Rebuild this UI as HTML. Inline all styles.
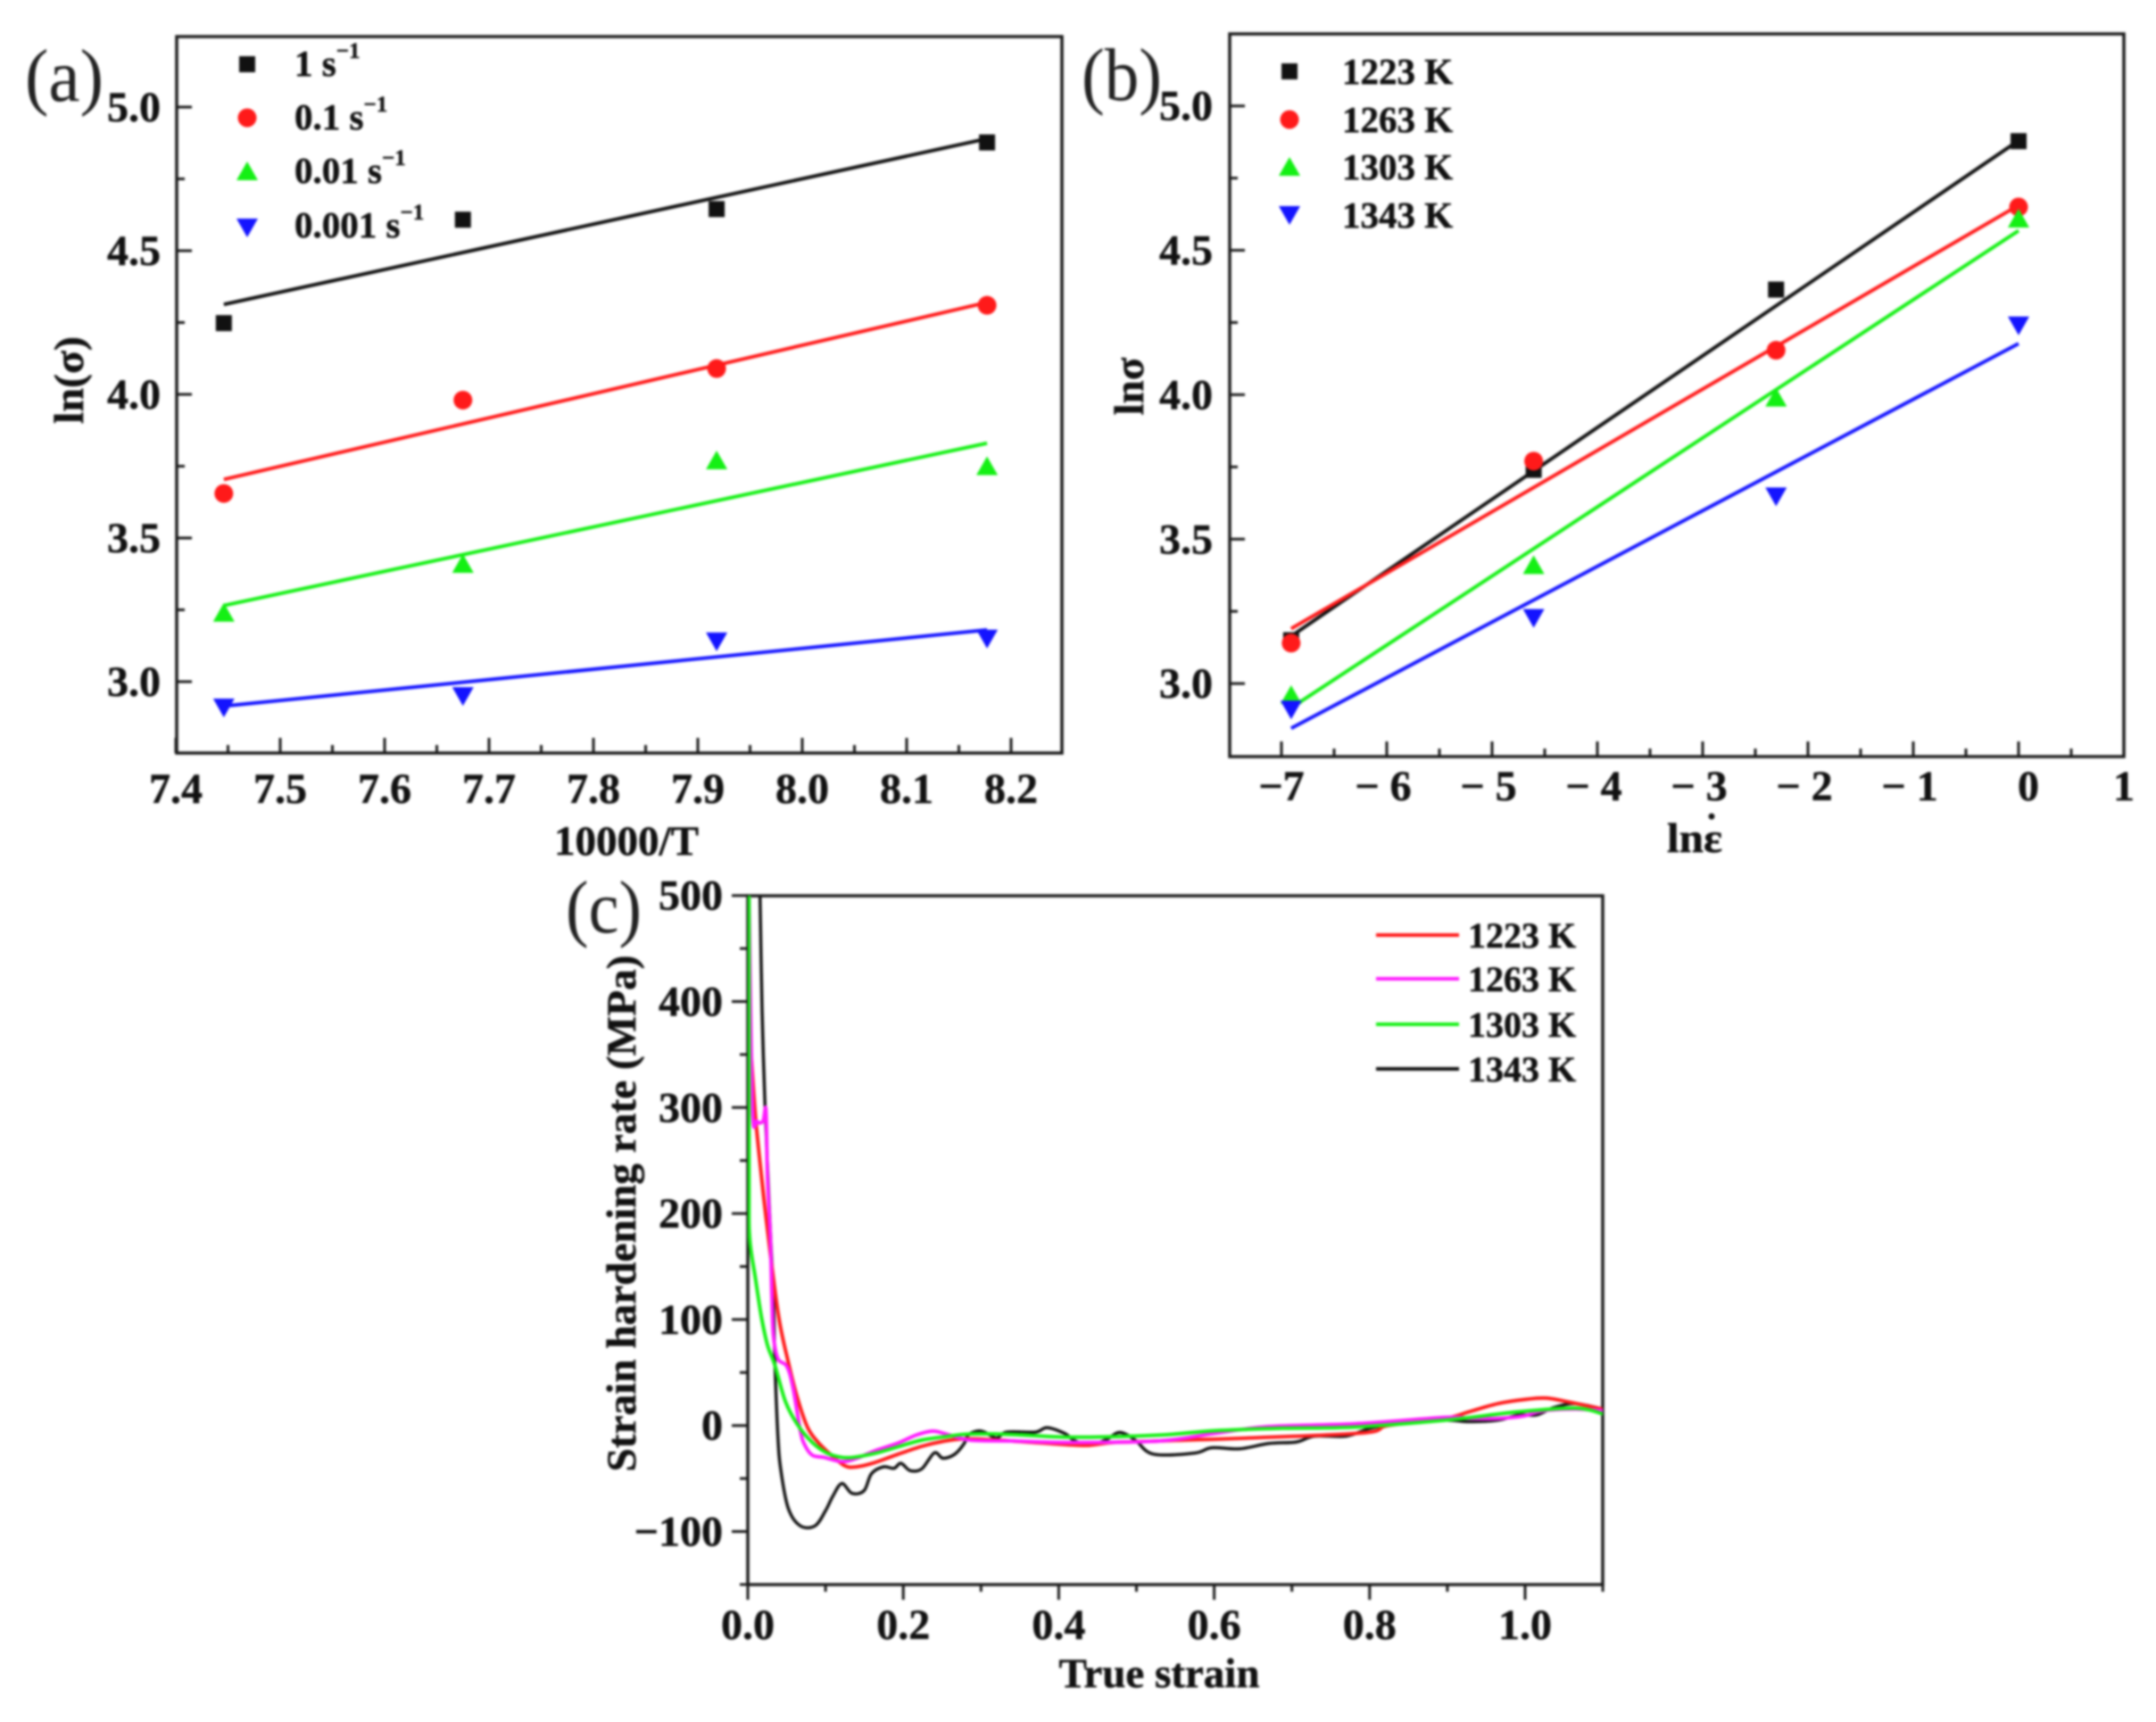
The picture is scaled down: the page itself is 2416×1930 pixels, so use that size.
<!DOCTYPE html>
<html lang="en">
<head>
<meta charset="utf-8">
<title>Flow stress and strain hardening charts</title>
<style>
html,body{margin:0;padding:0;background:#fff;width:2416px;height:1930px;overflow:hidden}
svg{display:block;filter:blur(1.3px)}
text{font-family:"Liberation Serif","DejaVu Serif",serif;font-weight:bold;fill:#111;stroke:#111;stroke-width:.5px}
.panel-letter{font-weight:normal;fill:#222;stroke:none}
.tick{font-size:48px}
.title{font-size:47px}
.leg{font-size:41px}
.leg-c{font-size:40px}
.sup{font-size:25px}
</style>
</head>
<body>
<svg id="figure" xmlns="http://www.w3.org/2000/svg" width="2416" height="1930" viewBox="0 0 2416 1930">
  <defs>
    <clipPath id="clip-c"><rect x="838" y="1004" width="958" height="772"/></clipPath>
  </defs>
  <rect x="0" y="0" width="2416" height="1930" fill="#fff"/>

  <g id="panel-a">
    <text class="panel-letter" x="28" y="113" font-size="84" textLength="88" lengthAdjust="spacingAndGlyphs">(a)</text>
    <text class="title" x="702" y="958" text-anchor="middle">10000/T</text>
    <text class="title" transform="translate(93 426) rotate(-90)" text-anchor="middle" textLength="98" lengthAdjust="spacingAndGlyphs">ln(σ)</text>
    <text class="leg" x="330" y="85">1 s<tspan class="sup" dy="-20">−1</tspan></text>
    <text class="leg" x="330" y="145">0.1 s<tspan class="sup" dy="-20">−1</tspan></text>
    <text class="leg" x="330" y="205">0.01 s<tspan class="sup" dy="-20">−1</tspan></text>
    <text class="leg" x="330" y="266">0.001 s<tspan class="sup" dy="-20">−1</tspan></text>
  </g>

  <g id="panel-b">
    <text class="panel-letter" x="1212" y="112" font-size="84" textLength="90" lengthAdjust="spacingAndGlyphs">(b)</text>
    <text class="title" x="1899" y="955" text-anchor="middle" textLength="62" lengthAdjust="spacingAndGlyphs">lnε</text>
    <circle cx="1918" cy="915" r="3.5" fill="#111"/>
    <text class="title" transform="translate(1281 433) rotate(-90)" text-anchor="middle">lnσ</text>
    <text class="leg" x="1504" y="94">1223 K</text>
    <text class="leg" x="1504" y="148">1263 K</text>
    <text class="leg" x="1504" y="201">1303 K</text>
    <text class="leg" x="1504" y="255">1343 K</text>
  </g>

  <g id="panel-c">
    <text class="panel-letter" x="634" y="1045" font-size="84" textLength="85" lengthAdjust="spacingAndGlyphs">(c)</text>
    <text class="title" x="1299" y="1891" text-anchor="middle">True strain</text>
    <text class="title" transform="translate(712 1360) rotate(-90)" text-anchor="middle" textLength="579" lengthAdjust="spacingAndGlyphs">Strain hardening rate (MPa)</text>
    <text class="leg-c" x="1645" y="1062">1223 K</text>
    <text class="leg-c" x="1645" y="1111">1263 K</text>
    <text class="leg-c" x="1645" y="1162">1303 K</text>
    <text class="leg-c" x="1645" y="1212">1343 K</text>
  </g>
</svg>

<script>
// ---------- Panel (a) data ----------
const aTemps = [7.446, 7.675, 7.918, 8.177];
const aSeriesNames = ['1-per-s', '0-1-per-s', '0-01-per-s', '0-001-per-s'];
const aRate1 = [4.248, 4.608, 4.645, 4.877];
const aRate01 = [3.655, 3.98, 4.09, 4.31];
const aRate001 = [3.24, 3.41, 3.77, 3.75];
const aRate0001 = [2.91, 2.95, 3.14, 3.15];
const aFitStart = [4.313, 3.704, 3.265, 2.915];
const aFitEnd = [4.89, 4.32, 3.83, 3.18];
const aXTicks = [7.4, 7.5, 7.6, 7.7, 7.8, 7.9, 8.0, 8.1, 8.2];
const aXMinor = [7.45, 7.55, 7.65, 7.75, 7.85, 7.95, 8.05, 8.15];
const aYTicks = [3.0, 3.5, 4.0, 4.5, 5.0];
const aYMinor = [3.25, 3.75, 4.25, 4.75];

// ---------- Panel (b) data ----------
const bRates = [-6.908, -4.605, -2.303, 0];
const bSeriesNames = ['1223k', '1263k', '1303k', '1343k'];
const b1223 = [3.15, 3.74, 4.364, 4.878];
const b1263 = [3.14, 3.77, 4.154, 4.65];
const b1303 = [2.96, 3.41, 3.99, 4.61];
const b1343 = [2.91, 3.227, 3.648, 4.24];
const bFitStart = [3.164, 3.19, 2.916, 2.845];
const bFitEnd = [4.88, 4.656, 4.568, 4.177];
const bXTicks = [-7, -6, -5, -4, -3, -2, -1, 0, 1];
const bXLabels = ['−7', '− 6', '− 5', '− 4', '− 3', '− 2', '− 1', '0', '1'];
const bXMinor = [-6.5, -5.5, -4.5, -3.5, -2.5, -1.5, -0.5, 0.5];
const bYTicks = [3.0, 3.5, 4.0, 4.5, 5.0];
const bYMinor = [3.25, 3.75, 4.25, 4.75];

// ---------- Panel (c) data ----------
const cXTicks = [0, 0.2, 0.4, 0.6, 0.8, 1.0];
const cXMinor = [0.1, 0.3, 0.5, 0.7, 0.9, 1.1];
const cYTicks = [-100, 0, 100, 200, 300, 400, 500];
const cYMinor = [-150, -50, 50, 150, 250, 350, 450];
const cSeriesNames = ['1343k', '1223k', '1263k', '1303k'];

const strain1343 = [0.0157,0.0184,0.0222,0.029,0.0329,0.0348,0.0387,0.0425,0.052,0.0674,0.0865,0.0999,0.1095,0.121,0.134,0.1496,0.159,0.1745,0.188,0.197,0.209,0.224,0.24,0.251,0.266,0.278,0.2836,0.295,0.3046,0.32,0.333,0.37,0.385,0.408,0.419,0.4386,0.4615,0.475,0.486,0.4998,0.522,0.5745,0.597,0.633,0.67,0.706,0.729,0.77,0.801,0.8423,0.897,0.928,0.965,0.992,1.015,1.037,1.065,1.1];
const rate1343 = [499,391,301,183,122,60,-10,-42,-78,-94.6,-94.6,-80.5,-66.5,-54.7,-64,-61.4,-45.5,-39,-40.4,-35.6,-42.6,-40.7,-25.8,-30.9,-27.2,-17.4,-9,-5.3,-6.2,-11.8,-6.2,-6.2,-2,-7.6,-13.7,-18.8,-13.2,-7,-8,-14.6,-27,-26,-21,-22,-17,-15.5,-10,-10,-2.6,2.6,5,3.6,5,10,10,17,20.6,15.5];

const strain1223 = [0.0042,0.01,0.0176,0.0233,0.031,0.0405,0.052,0.0638,0.077,0.0906,0.106,0.1248,0.14,0.163,0.1936,0.224,0.251,0.278,0.32,0.377,0.4347,0.469,0.53,0.779,0.824,0.897,0.928,0.965,1.001,1.028,1.06,1.1];
const rate1223 = [351,290,235,197,150,99,60,26,-2,-16,-27,-38,-39,-35,-27,-19.6,-15,-12.6,-13.7,-16.5,-18.8,-16,-14.6,-7.7,0,6.7,13,20.6,24.7,25.8,21.6,15.5];

const strain1263 = [0.0015,0.006,0.0118,0.0195,0.0233,0.0253,0.029,0.031,0.0329,0.0387,0.0502,0.0578,0.0675,0.073,0.083,0.0976,0.121,0.14,0.163,0.1936,0.2166,0.2377,0.255,0.2855,0.339,0.4156,0.53,0.5985,0.67,0.779,0.897,0.928,0.965,0.997,1.024,1.065,1.1];
const rate1263 = [500,301,287,287,298,235,178,122,85,63,56,37,-4.6,-18,-28,-30,-34,-31,-24,-16.5,-9,-5.3,-8,-13.7,-14.6,-16,-14.6,-7.7,-1,1.5,7.7,6.7,6.7,8.8,14,15.5,14];

const strain1303 = [0.0015,0.0015,0.0023,0.01,0.0176,0.0253,0.0348,0.0482,0.0638,0.083,0.102,0.1206,0.136,0.163,0.1936,0.224,0.255,0.2855,0.339,0.4156,0.53,0.5985,0.688,0.779,0.897,0.992,1.065,1.1];
const rate1303 = [500,234,178,138,102,76,57,23,1,-16,-26,-30,-30,-26.4,-20,-13.7,-10.4,-8,-8.4,-11,-9,-5,-2.6,-1.5,5,13,16.5,11];

// ---------- Axis functions ----------
const ax = v => 197 + (v - 7.4) * 1170;
const ay = v => 120 + (5 - v) * 322;
const bx = v => 2262 + v * 118;
const by = v => 118.7 + (5 - v) * 323.7;
const cx = v => 838 + v * 871;
const cy = v => 1597.7 - v * 1.188;

const NS = 'http://www.w3.org/2000/svg';
const INK = '#1a1a1a';
const BLACK = '#111111';
const RED = '#ff1a1a';
const GREEN = '#14f014';
const BLUE = '#1414ff';
const MAGENTA = '#ff1aff';

function drawLine(parent, name, x1, y1, x2, y2, color, width, cap) {
  const el = document.createElementNS(NS, 'line');
  
  
  el.setAttribute('x1', x1);
  el.setAttribute('y1', y1);
  el.setAttribute('x2', x2);
  el.setAttribute('y2', y2);
  el.setAttribute('stroke', color);
  el.setAttribute('stroke-width', width);
  el.setAttribute('stroke-linecap', cap || 'butt');
  parent.appendChild(el);
}

function drawText(parent, name, x, y, anchor, label) {
  const el = document.createElementNS(NS, 'text');
  
  
  el.setAttribute('class', 'tick');
  el.setAttribute('x', x);
  el.setAttribute('y', y);
  el.setAttribute('text-anchor', anchor);
  el.textContent = label;
  parent.appendChild(el);
}

function drawFrame(parent, name, x, y, w, h) {
  const el = document.createElementNS(NS, 'rect');
  
  
  el.setAttribute('x', x);
  el.setAttribute('y', y);
  el.setAttribute('width', w);
  el.setAttribute('height', h);
  el.setAttribute('fill', 'none');
  el.setAttribute('stroke', INK);
  el.setAttribute('stroke-width', 3.5);
  parent.appendChild(el);
}

function drawMarker(parent, name, kind, x, y, color) {
  let el;
  if (kind === 0) {
    el = document.createElementNS(NS, 'rect');
    el.setAttribute('x', x - 9);
    el.setAttribute('y', y - 9);
    el.setAttribute('width', 18);
    el.setAttribute('height', 18);
  } else if (kind === 1) {
    el = document.createElementNS(NS, 'circle');
    el.setAttribute('cx', x);
    el.setAttribute('cy', y);
    el.setAttribute('r', 10.5);
  } else if (kind === 2) {
    el = document.createElementNS(NS, 'polygon');
    el.setAttribute('points', (x - 12) + ',' + (y + 10) + ' ' + (x + 12) + ',' + (y + 10) + ' ' + x + ',' + (y - 11));
  } else {
    el = document.createElementNS(NS, 'polygon');
    el.setAttribute('points', (x - 12) + ',' + (y - 10) + ' ' + (x + 12) + ',' + (y - 10) + ' ' + x + ',' + (y + 11));
  }
  
  
  el.setAttribute('fill', color);
  parent.appendChild(el);
}

function smoothPath(xs, ys) {
  const n = xs.length;
  let d = 'M' + xs[0].toFixed(1) + ' ' + ys[0].toFixed(1);
  for (let i = 0; i < n - 1; i++) {
    const a = Math.max(i - 1, 0), c = i + 1, e = Math.min(i + 2, n - 1);
    const c1x = xs[i] + (xs[c] - xs[a]) / 6, c1y = ys[i] + (ys[c] - ys[a]) / 6;
    const c2x = xs[c] - (xs[e] - xs[i]) / 6, c2y = ys[c] - (ys[e] - ys[i]) / 6;
    d += 'C' + c1x.toFixed(1) + ' ' + c1y.toFixed(1) + ' ' + c2x.toFixed(1) + ' ' + c2y.toFixed(1) + ' ' + xs[c].toFixed(1) + ' ' + ys[c].toFixed(1);
  }
  return d;
}

// ---------- Panel (a) ----------
const pa = document.getElementById('panel-a');
const aColors = [BLACK, RED, GREEN, BLUE];
const aSeries = [aRate1, aRate01, aRate001, aRate0001];
const aLegendY = [72, 132, 192, 255];

drawFrame(pa, 'plot-frame-a', 198, 41, 992, 803);
aXTicks.forEach(v => {
  drawLine(pa, 'x-tick-a', ax(v), 844, ax(v), 827, INK, 3);
  drawText(pa, 'x-tick-label-a', ax(v), 900, 'middle', v.toFixed(1));
});
aXMinor.forEach(v => {
  drawLine(pa, 'x-minor-tick-a', ax(v), 844, ax(v), 835, INK, 3);
});
aYTicks.forEach(v => {
  drawLine(pa, 'y-tick-a', 198, ay(v), 215, ay(v), INK, 3);
  drawText(pa, 'y-tick-label-a', 180, ay(v) + 16, 'end', v.toFixed(1));
});
aYMinor.forEach(v => {
  drawLine(pa, 'y-minor-tick-a', 198, ay(v), 207, ay(v), INK, 3);
});
aSeries.forEach((vals, s) => {
  drawLine(pa, 'fit-line-' + aSeriesNames[s], ax(aTemps[0]), ay(aFitStart[s]), ax(aTemps[3]), ay(aFitEnd[s]), aColors[s], 4);
  vals.forEach((v, i) => {
    drawMarker(pa, 'point-' + aSeriesNames[s], s, ax(aTemps[i]), ay(v), aColors[s]);
  });
  drawMarker(pa, 'legend-marker-' + aSeriesNames[s], s, 277, aLegendY[s], aColors[s]);
});

// ---------- Panel (b) ----------
const pb = document.getElementById('panel-b');
const bSeries = [b1223, b1263, b1303, b1343];
const bLegendY = [80, 134, 187, 241];

drawFrame(pb, 'plot-frame-b', 1378, 38, 1002, 810);
bXTicks.forEach((v, i) => {
  drawLine(pb, 'x-tick-b', bx(v), 848, bx(v), 831, INK, 3);
  drawText(pb, 'x-tick-label-b', bx(v) + (v === 0 ? 11 : (v < 0 && v > -7 ? -4 : 0)), 897, 'middle', bXLabels[i]);
});
bXMinor.forEach(v => {
  drawLine(pb, 'x-minor-tick-b', bx(v), 848, bx(v), 839, INK, 3);
});
bYTicks.forEach(v => {
  drawLine(pb, 'y-tick-b', 1378, by(v), 1395, by(v), INK, 3);
  drawText(pb, 'y-tick-label-b', 1359, by(v) + 16, 'end', v.toFixed(1));
});
bYMinor.forEach(v => {
  drawLine(pb, 'y-minor-tick-b', 1378, by(v), 1387, by(v), INK, 3);
});
bSeries.forEach((vals, s) => {
  drawLine(pb, 'fit-line-' + bSeriesNames[s], bx(bRates[0]), by(bFitStart[s]), bx(bRates[3]), by(bFitEnd[s]), aColors[s], 4);
});
bSeries.forEach((vals, s) => {
  vals.forEach((v, i) => {
    drawMarker(pb, 'point-' + bSeriesNames[s], s, bx(bRates[i]), by(v), aColors[s]);
  });
  drawMarker(pb, 'legend-marker-' + bSeriesNames[s], s, 1445, bLegendY[s], aColors[s]);
});

// ---------- Panel (c) ----------
const pc = document.getElementById('panel-c');
const cStrains = [strain1343, strain1223, strain1263, strain1303];
const cRates = [rate1343, rate1223, rate1263, rate1303];
const cColors = [BLACK, RED, MAGENTA, GREEN];
const cWidths = [3.5, 4, 4, 4];

cXTicks.forEach(v => {
  drawLine(pc, 'x-tick-c', cx(v), 1776, cx(v), 1793, INK, 3);
  drawText(pc, 'x-tick-label-c', cx(v), 1837, 'middle', v.toFixed(1));
});
cXMinor.forEach(v => {
  drawLine(pc, 'x-minor-tick-c', cx(v), 1776, cx(v), 1784, INK, 3);
});
cYTicks.forEach(v => {
  drawLine(pc, 'y-tick-c', 838, cy(v), 820, cy(v), INK, 3);
  drawText(pc, 'y-tick-label-c', 810, cy(v) + 16, 'end', String(v).replace('-', '−'));
});
cYMinor.forEach(v => {
  drawLine(pc, 'y-minor-tick-c', 838, cy(v), 829, cy(v), INK, 3);
});
drawFrame(pc, 'plot-frame-c', 838, 1004, 958, 772);
cRates.forEach((vals, s) => {
  const el = document.createElementNS(NS, 'path');
  
  
  el.setAttribute('d', smoothPath(cStrains[s].map(cx), vals.map(cy)));
  el.setAttribute('fill', 'none');
  el.setAttribute('stroke', cColors[s]);
  el.setAttribute('stroke-width', cWidths[s]);
  el.setAttribute('stroke-linejoin', 'round');
  el.setAttribute('clip-path', 'url(#clip-c)');
  pc.appendChild(el);
});
const cLegendColors = [RED, MAGENTA, GREEN, BLACK];
const cLegendNames = ['1223k', '1263k', '1303k', '1343k'];
const cLegendY = [1048, 1097, 1148, 1198];
cLegendColors.forEach((col, i) => {
  drawLine(pc, 'legend-line-' + cLegendNames[i], 1542, cLegendY[i], 1635, cLegendY[i], col, 4);
});
</script>
</body>
</html>
